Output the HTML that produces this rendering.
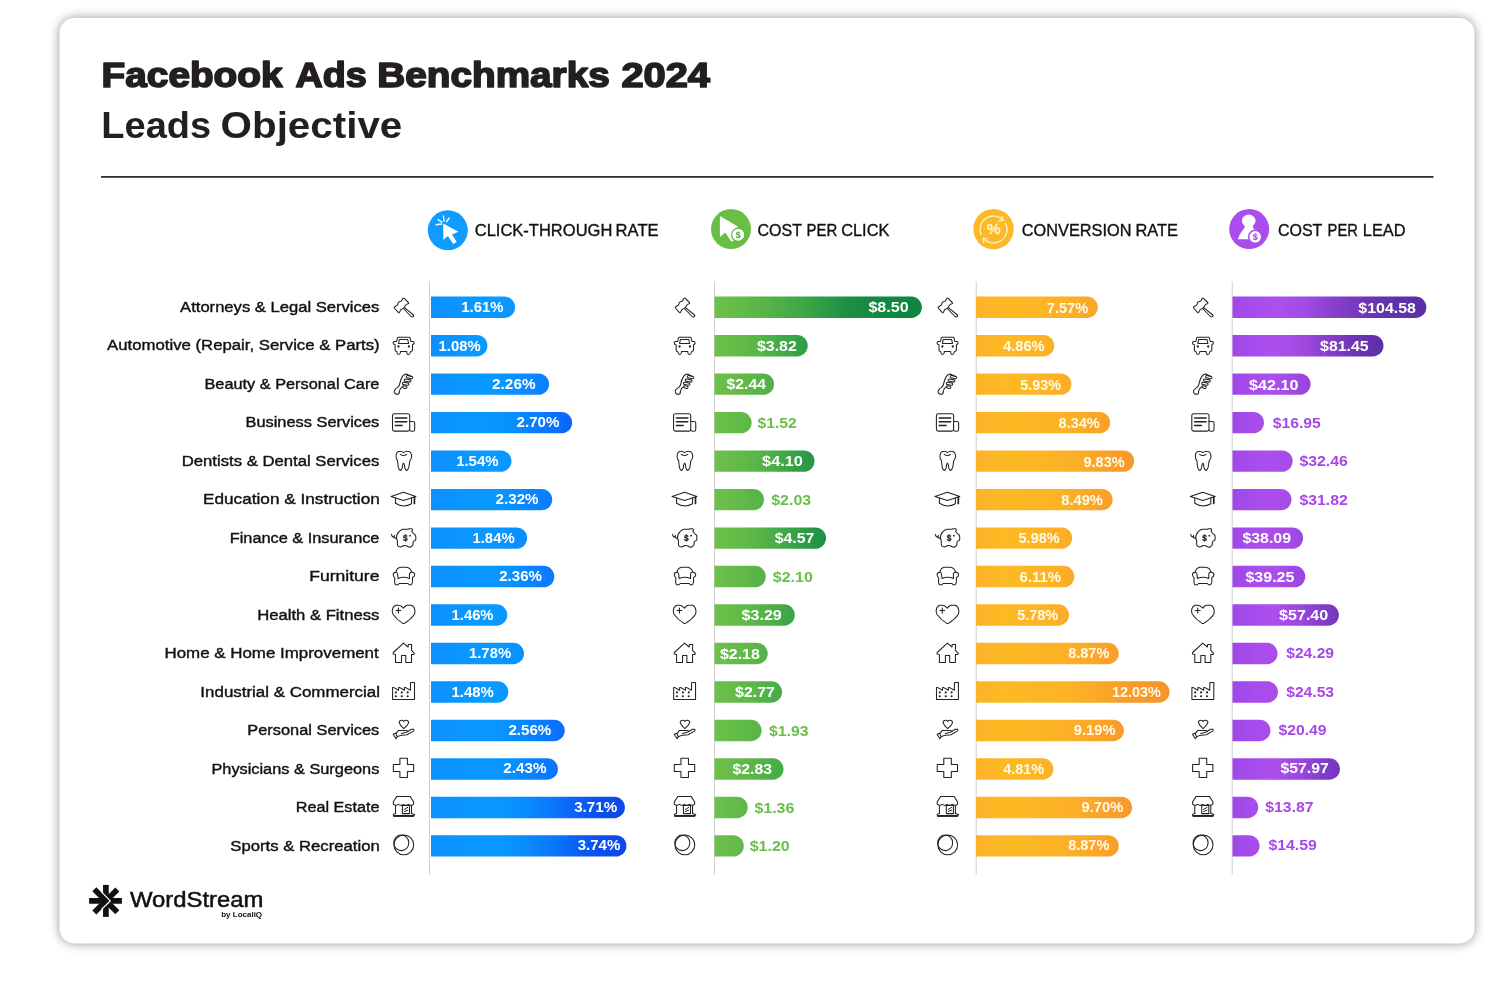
<!DOCTYPE html>
<html lang="en"><head><meta charset="utf-8"><title>Facebook Ads Benchmarks 2024 - Leads Objective</title>
<style>
html,body{margin:0;padding:0;background:#fff;}
body{width:1500px;height:985px;overflow:hidden;}
svg{display:block;}
svg text{font-family:"Liberation Sans",sans-serif;white-space:pre;}
.ic{fill:none;stroke:#222;stroke-width:1.05;stroke-linecap:round;stroke-linejoin:round;}
.ic .f{fill:#222;stroke:none;}
.ic text{fill:#222;stroke:none;font-weight:bold;}
</style></head><body>
<svg width="1500" height="985" viewBox="0 0 1500 985">
<defs>
<filter id="sh" x="-5%" y="-5%" width="110%" height="110%"><feGaussianBlur stdDeviation="5.5"/></filter>

<g id="i-gavel"><path d="M-0.6,-8.6 Q0,-9.3 0.7,-8.6 L4.9,-4.5 Q5.5,-3.7 4.6,-3.3 Q2.6,-2.9 1.9,-1.4 L0.9,0.6 L-0.2,1.5 Q-2.2,2 -2.9,2.9 Q-3.4,4.2 -4,5.3 Q-4.6,6 -5.3,5.3 L-9.1,1 Q-9.7,0.3 -8.9,-0.2 Q-7.7,-1.1 -6.6,-1.5 Q-5.8,-1.9 -5.7,-2.9 Q-5.6,-4.4 -4.6,-5.1 Q-3.3,-5.5 -2.5,-5.7 Q-1.8,-6 -1.5,-7 Q-1.2,-8 -0.6,-8.6 Z"/><path d="M0.9,0.6 L10,8 Q10.6,8.7 9.9,9.3 L9,9.9 Q8.2,10.2 7.6,9.5 L-0.2,1.5"/></g>
<g id="i-car"><path d="M-5.4,-8.3 L5.8,-8.3 Q6.6,-8.2 6.8,-7 L7.2,-4.6 Q7.3,-4 8,-4 L9.4,-4 Q10.6,-3.8 10.6,-2.6 Q10.5,-1.2 9.2,-0.9 L9,-0.8 L9,4.6 Q8.8,5.9 7.3,6.1 Q6.9,6.2 6.8,7 Q6.5,9 4.9,9.1 Q3.4,9 3.3,7 L3.2,5.9 L-3,5.9 L-3.1,7 Q-3.3,9 -4.8,9.1 Q-6.3,9 -6.5,7 Q-6.6,6.2 -7,6.1 Q-8.3,5.9 -8.4,4.6 L-8.4,-0.8 L-9,-0.9 Q-10.3,-1.3 -10.3,-2.6 Q-10.2,-3.9 -9,-4 L-7.4,-4 Q-6.8,-4.1 -6.7,-4.7 L-6.3,-7.2 Q-6.1,-8.2 -5.4,-8.3 Z"/><path d="M-4.1,-6.1 L4.2,-6.1 L5.1,-2 L-5,-2 Z"/><circle cx="-5" cy="1" r="1.15" fill="#222" stroke="none"/><circle cx="5.4" cy="1" r="1.15" fill="#222" stroke="none"/></g>
<g id="i-comb"><path d="M-4.3,8 Q-3.8,9.9 -5.6,10.3 Q-8.4,10.8 -9.3,8.3 Q-9.8,6 -7.5,4.6 Q-4.6,3 -4.1,1 Q-3,-4.4 -1,-7.6 Q0.4,-9.9 2.6,-9.9 Q3.8,-9.8 5,-9 L8.2,-7.6"/><path d="M-4.3,8 Q-3.6,4.8 -2.2,3.6 L-0.8,2.8"/><rect x="-3.30" y="-1.15" width="6.60" height="2.30" rx="1.15" transform="translate(6.0,-6.9) rotate(14)"/><rect x="-3.40" y="-1.15" width="6.80" height="2.30" rx="1.15" transform="translate(4.1,-3.4) rotate(10)"/><rect x="-3.20" y="-1.15" width="6.40" height="2.30" rx="1.15" transform="translate(2.1,-0.2) rotate(10)"/><rect x="-2.20" y="-1.15" width="4.40" height="2.30" rx="1.15" transform="translate(1.3,3.1) rotate(16)"/></g>
<g id="i-news"><rect x="-11" y="-8.8" width="17.2" height="17.4" rx="1.9"/><path d="M6.2,-1 L9.6,-1 Q11.2,-1 11.2,0.6 L11.2,7 Q11.2,8.8 9.4,8.8 L8,8.8 Q6.4,8.8 6.2,7.2"/><path d="M-8.2,-4.4 H3.3 M-8.2,-0.8 H3.3 M-8.2,3 H-1.3" stroke-width="1.5"/></g>
<g id="i-tooth"><path d="M0,-8.3 Q-1.8,-9.9 -3.4,-9.7 Q-6.8,-9.5 -7.3,-6.3 Q-7.6,-3.6 -7.1,-2.1 Q-6.2,-0.8 -5.9,-0.3 Q-5.6,3 -5.2,6.1 Q-4.6,9 -3,9.5 Q-1.8,9 -1.1,6.4 Q-0.9,2.5 0,2.2 Q1,2.5 1.2,6.4 Q1.8,9 3,9.5 Q4.6,9 5.3,6.4 Q6,3 6.2,0.1 Q7.4,-1.6 8,-3.1 Q8.3,-4.8 8,-6.3 Q7.2,-9.5 3.9,-9.7 Q2,-9.9 0,-8.3 Z"/><path d="M-3.2,-6.7 Q0,-4.3 3.2,-6.7"/></g>
<g id="i-cap"><path d="M0,-7.2 L12.4,-3.1 L0,1 L-12.5,-3.1 Z"/><path d="M-8,-1.5 L-8,3.8 Q0,8.8 8,4.3 L8,-1.5"/><path d="M11,-2.5 L10.9,4" stroke-width="1.7"/></g>
<g id="i-pig"><path d="M-7.1,0.4 Q-7.3,-3.5 -4.3,-6.7 Q-2.5,-8.3 -0.4,-8.7 L4.6,-8.7 Q5,-9.1 5.7,-9.2 L8,-9.2 Q9,-9 8.9,-8 L8.3,-6.5 Q9.8,-4.4 12.1,-2.8 Q12.5,-0.3 12.2,2.2 Q10.5,2.6 9.9,3.6 Q9.3,4.8 9.6,6.4 Q9.2,7.8 7.8,8.5 Q6.6,9.4 6,9.3 Q4.6,9 3.5,7.9 Q1.8,7.2 0,7.5 Q-1.2,8.6 -2.9,9.1 Q-5,8.8 -5.9,7.5 Q-6.4,5.4 -6.1,2.9 Q-6.3,1.5 -7.1,0.4 Z"/><path d="M-12.1,-3.7 Q-11.6,-1.2 -9.8,-0.7 Q-8.6,-0.2 -7.5,0.6 M-10.2,-1.2 Q-8.6,-1.4 -9.2,-2.6"/><text x="1.7" y="2.5" font-size="8.3" font-weight="bold" text-anchor="middle" fill="#222" stroke="#222" stroke-width="0.25">$</text><circle cx="6.5" cy="-2.3" r="0.9" fill="#222" stroke="none"/></g>
<g id="i-chair"><path d="M-7.5,-4.7 Q-6.5,-8.8 -2.8,-9.2 L2.8,-9.2 Q7,-8.8 8.1,-4.7"/><path d="M-7.8,-4.2 Q-10.4,-3.8 -10.3,-1.8 Q-10.2,-0.2 -8.7,1.3 L-8.9,5.2 Q-8.8,7 -8,8.3 L-5.5,8.3 L-4.3,7 L4.6,7 L5.8,8.3 L7.8,8.3 Q8.8,7 9,5.2 L9,1 Q11.2,0 11.2,-1.8 Q11,-3.8 8.1,-4.4 Q6.2,-4 6,-2.6 L6,1.9 Q0,-0.4 -5.4,2 L-5.9,-2.6 Q-6.2,-4 -7.8,-4.2 Z"/></g>
<g id="i-heart"><path d="M0,-6.9 Q-2.6,-9.7 -5,-9.7 L-7.5,-9.7 Q-10.8,-8.6 -11.2,-4.6 Q-11.4,-2.4 -10.5,-0.7 Q-7,4.5 -0.7,8.4 L0.9,8.4 Q7.5,4.5 11,-0.7 Q11.8,-2.6 11.3,-4.9 Q10.8,-8.6 8.1,-9.7 L3.5,-9.7 Q1.6,-9 0,-6.9 Z"/><path d="M-7.5,-4.5 H-2.7 M-5.1,-6.9 V-2.1" stroke-width="1.1"/></g>
<g id="i-house"><path d="M0,-10.4 L4.6,-6.5 L4.8,-9 L8.1,-9 L8,-3.1 L10.8,-0.1 Q10.8,1 9.9,1 L8,1.1 L8,9 L2.3,9 L2.3,1.9 L-2,1.9 L-2,9 L-8,9 L-8,1 L-10.2,0.6 Q-10.6,-0.3 -10.2,-1 Z"/></g>
<g id="i-factory"><path d="M-10.9,7.5 L-10.9,-4.4 L-10,-4.6 L-5,-1.7 L-4.8,-4.4 L-4.1,-4.6 L0.9,-1.7 L1,-4.4 L1.8,-4.6 L6.9,-1.7 L7.1,-9.5 L11,-9.5 L11,7.5 Z"/><circle cx="-7.6" cy="0.4" r="1.05" fill="#222" stroke="none"/><circle cx="-7.6" cy="4.3" r="1.05" fill="#222" stroke="none"/><circle cx="-1.7" cy="0.4" r="1.05" fill="#222" stroke="none"/><circle cx="-1.7" cy="4.3" r="1.05" fill="#222" stroke="none"/><circle cx="4.2" cy="0.4" r="1.05" fill="#222" stroke="none"/><circle cx="4.2" cy="4.3" r="1.05" fill="#222" stroke="none"/></g>
<g id="i-hand"><path d="M0.3,-9 Q-0.8,-10.4 -2,-10.2 Q-4.4,-10 -4.3,-7.6 Q-3.5,-5 0.3,-1.9 Q4.2,-5 5.1,-7.6 Q5.2,-10 2.6,-10.2 Q1.3,-10.3 0.3,-9 Z"/><path d="M-10.3,3.8 L-7.8,2.7 L-6.2,6.3 L-7.5,8.3 Z"/><path d="M-7.5,2.8 L-5,-0.1 L2.8,0.1 Q4,0.3 4.2,1 L7.8,-1.2 L10.3,-1.2 Q10.6,-0.2 9.9,0.6 L3.5,4.2 L-3.6,5.1 L-6.1,6.3"/><path d="M-2.2,2.9 L2.8,1.7 L4.2,1"/></g>
<g id="i-cross"><path d="M-3.6,-10.8 L3.9,-10.8 L3.9,-4.6 L10.1,-4.6 L10.1,2.4 L3.9,2.4 L3.9,8.4 L-3.6,8.4 L-3.6,2.4 L-10.2,2.4 L-10.2,-4.6 L-3.6,-4.6 Z"/></g>
<g id="i-shop"><path d="M-6.6,-11.1 L6.5,-11.1 L10.1,-5.8 L10.1,-3.3 Q8,-1.2 4.9,-3.1 Q2.6,-1.2 0,-3.1 Q-2.3,-1.2 -5,-3.1 Q-8.2,-1.2 -10.2,-3.3 L-10.2,-5.8 Z"/><path d="M-8,-2 V5.9 M8,-2 V5.9"/><rect x="-1.1" y="-2" width="7.1" height="8.1"/><path d="M0.7,2 L4.2,-0.1 M0.9,4 L4.2,2.7" stroke-width="1"/><path d="M-8,5.9 L-10.3,7 L-9.6,8.6 L10,8.6 L11.2,7 L8,5.9"/><path d="M-9.6,8.3 H10" stroke-width="1.7"/></g>
<g id="i-ball"><circle cx="0.3" cy="-1.2" r="9.9"/><ellipse cx="-2.2" cy="-3.2" rx="7.5" ry="7.8"/></g>
</defs>
<rect x="59.5" y="18" width="1415" height="925.5" rx="15" fill="#000" opacity="0.42" filter="url(#sh)"/>
<rect x="59.5" y="18" width="1415" height="925.5" rx="15" fill="#fff"/>
<rect x="101" y="176.1" width="1332.5" height="1.6" fill="#1a1a1a"/>

<circle cx="447.8" cy="230.3" r="20" fill="#0f9bff"/>
<path d="M443.2,223.5 L443.4,239.9 L447.8,236 L453.3,243.9 L456.6,241.7 L452,234.4 L458.4,231.7 Z" fill="#fff"/>
<path d="M443.4,216.1 L444.1,221 M438,219.5 L441.7,222.2 M436.2,224.7 L441.4,224.1 M449,218.3 L446.6,221.6" stroke="#fff" stroke-width="1.5" stroke-linecap="round" fill="none"/>
<circle cx="731" cy="229.1" r="20" fill="#69be46"/>
<path d="M719.9,215.9 L719.9,237.05 L725.2,232.4 L731.3,241.7 L735,240 L737.8,226.5 Z" fill="#fff"/>
<circle cx="738.2" cy="234.8" r="7.2" fill="#62b742"/>
<circle cx="738.2" cy="234.8" r="6" fill="#fff"/>
<text x="738.2" y="238.3" font-size="9.6" font-weight="bold" text-anchor="middle" fill="#4fa43a">$</text>
<circle cx="993.5" cy="229.1" r="20.2" fill="#fdb827"/>
<g fill="none" stroke="#fff2b8" stroke-width="1.35" stroke-linecap="round" stroke-linejoin="round">
<path d="M980.98,234.56 A13.5,13.5 0 0 1 1003.21,220.12"/>
<path d="M1005.42,223.16 A13.5,13.5 0 0 1 983.47,238.53"/>
<path d="M1001.9,216.3 L1003.5,220.3 L999.0,221.2"/>
<path d="M983.7,242.6 L983.3,238.2 L987.8,238.8"/>
</g>
<text x="993.7" y="234.4" font-size="15.5" font-weight="bold" text-anchor="middle" fill="#fff2b8" stroke="#fff2b8" stroke-width="0.3">%</text>
<circle cx="1249.2" cy="229.1" r="20" fill="#aa4cee"/>
<ellipse cx="1248.7" cy="220.9" rx="6.8" ry="6.3" fill="#fff"/>
<path d="M1244.9,225 L1244.8,226.8 C1244,229.8 1240,232.5 1237.9,239.3 L1252,239.3 L1259,231.5 C1256,230.6 1253.4,229.4 1252.8,226.8 L1252.7,225 Z" fill="#fff"/>
<circle cx="1255.2" cy="236.8" r="7.3" fill="#aa4cee"/>
<circle cx="1255.2" cy="236.8" r="5.8" fill="#fff"/>
<text x="1255.2" y="240.1" font-size="9.2" font-weight="bold" text-anchor="middle" fill="#9340d8">$</text>

<rect x="429.0" y="281.5" width="1" height="593.2" fill="#cfcfcf"/>
<rect x="714.0" y="281.5" width="1" height="593.2" fill="#cfcfcf"/>
<rect x="975.7" y="281.5" width="1" height="593.2" fill="#cfcfcf"/>
<rect x="1231.7" y="281.5" width="1" height="593.2" fill="#cfcfcf"/>
<defs><linearGradient id="b0" gradientUnits="userSpaceOnUse" x1="431.0" y1="0" x2="515.1" y2="0"><stop offset="0.000" stop-color="#0d90ff"/><stop offset="0.125" stop-color="#0c92ff"/><stop offset="0.250" stop-color="#0b94ff"/><stop offset="0.375" stop-color="#0a96ff"/><stop offset="0.500" stop-color="#0998ff"/><stop offset="0.625" stop-color="#0999ff"/><stop offset="0.750" stop-color="#0999ff"/><stop offset="0.875" stop-color="#0998ff"/><stop offset="1.000" stop-color="#0a96ff"/></linearGradient>
<linearGradient id="b1" gradientUnits="userSpaceOnUse" x1="431.0" y1="0" x2="487.4" y2="0"><stop offset="0.000" stop-color="#0d90ff"/><stop offset="0.125" stop-color="#0c91ff"/><stop offset="0.250" stop-color="#0c93ff"/><stop offset="0.375" stop-color="#0b94ff"/><stop offset="0.500" stop-color="#0a96ff"/><stop offset="0.625" stop-color="#0a97ff"/><stop offset="0.750" stop-color="#0a99ff"/><stop offset="0.875" stop-color="#0a9aff"/><stop offset="1.000" stop-color="#0a9aff"/></linearGradient>
<linearGradient id="b2" gradientUnits="userSpaceOnUse" x1="431.0" y1="0" x2="549.1" y2="0"><stop offset="0.000" stop-color="#0d90ff"/><stop offset="0.125" stop-color="#0c93ff"/><stop offset="0.250" stop-color="#0a95ff"/><stop offset="0.375" stop-color="#0997ff"/><stop offset="0.500" stop-color="#0898ff"/><stop offset="0.625" stop-color="#0895ff"/><stop offset="0.750" stop-color="#098dff"/><stop offset="0.875" stop-color="#0a86ff"/><stop offset="1.000" stop-color="#0a80ff"/></linearGradient>
<linearGradient id="b3" gradientUnits="userSpaceOnUse" x1="431.0" y1="0" x2="572.1" y2="0"><stop offset="0.000" stop-color="#0d90ff"/><stop offset="0.125" stop-color="#0b93ff"/><stop offset="0.250" stop-color="#0a96ff"/><stop offset="0.375" stop-color="#0897ff"/><stop offset="0.500" stop-color="#0795fe"/><stop offset="0.625" stop-color="#098afd"/><stop offset="0.750" stop-color="#0a7efc"/><stop offset="0.875" stop-color="#0a70fa"/><stop offset="1.000" stop-color="#0a64f8"/></linearGradient>
<linearGradient id="b4" gradientUnits="userSpaceOnUse" x1="431.0" y1="0" x2="511.5" y2="0"><stop offset="0.000" stop-color="#0d90ff"/><stop offset="0.125" stop-color="#0c92ff"/><stop offset="0.250" stop-color="#0b94ff"/><stop offset="0.375" stop-color="#0a96ff"/><stop offset="0.500" stop-color="#0a97ff"/><stop offset="0.625" stop-color="#0999ff"/><stop offset="0.750" stop-color="#0999ff"/><stop offset="0.875" stop-color="#0998ff"/><stop offset="1.000" stop-color="#0a97ff"/></linearGradient>
<linearGradient id="b5" gradientUnits="userSpaceOnUse" x1="431.0" y1="0" x2="552.2" y2="0"><stop offset="0.000" stop-color="#0d90ff"/><stop offset="0.125" stop-color="#0c93ff"/><stop offset="0.250" stop-color="#0a95ff"/><stop offset="0.375" stop-color="#0997ff"/><stop offset="0.500" stop-color="#0898ff"/><stop offset="0.625" stop-color="#0893ff"/><stop offset="0.750" stop-color="#098bff"/><stop offset="0.875" stop-color="#0a83fe"/><stop offset="1.000" stop-color="#0a7cfe"/></linearGradient>
<linearGradient id="b6" gradientUnits="userSpaceOnUse" x1="431.0" y1="0" x2="527.1" y2="0"><stop offset="0.000" stop-color="#0d90ff"/><stop offset="0.125" stop-color="#0c92ff"/><stop offset="0.250" stop-color="#0b94ff"/><stop offset="0.375" stop-color="#0a96ff"/><stop offset="0.500" stop-color="#0998ff"/><stop offset="0.625" stop-color="#0898ff"/><stop offset="0.750" stop-color="#0896ff"/><stop offset="0.875" stop-color="#0991ff"/><stop offset="1.000" stop-color="#0a8eff"/></linearGradient>
<linearGradient id="b7" gradientUnits="userSpaceOnUse" x1="431.0" y1="0" x2="554.3" y2="0"><stop offset="0.000" stop-color="#0d90ff"/><stop offset="0.125" stop-color="#0c93ff"/><stop offset="0.250" stop-color="#0a95ff"/><stop offset="0.375" stop-color="#0997ff"/><stop offset="0.500" stop-color="#0897ff"/><stop offset="0.625" stop-color="#0892ff"/><stop offset="0.750" stop-color="#0989fe"/><stop offset="0.875" stop-color="#0a81fe"/><stop offset="1.000" stop-color="#0a7afd"/></linearGradient>
<linearGradient id="b8" gradientUnits="userSpaceOnUse" x1="431.0" y1="0" x2="507.3" y2="0"><stop offset="0.000" stop-color="#0d90ff"/><stop offset="0.125" stop-color="#0c92ff"/><stop offset="0.250" stop-color="#0b94ff"/><stop offset="0.375" stop-color="#0a95ff"/><stop offset="0.500" stop-color="#0a97ff"/><stop offset="0.625" stop-color="#0999ff"/><stop offset="0.750" stop-color="#0999ff"/><stop offset="0.875" stop-color="#0999ff"/><stop offset="1.000" stop-color="#0a97ff"/></linearGradient>
<linearGradient id="b9" gradientUnits="userSpaceOnUse" x1="431.0" y1="0" x2="524.0" y2="0"><stop offset="0.000" stop-color="#0d90ff"/><stop offset="0.125" stop-color="#0c92ff"/><stop offset="0.250" stop-color="#0b94ff"/><stop offset="0.375" stop-color="#0a96ff"/><stop offset="0.500" stop-color="#0998ff"/><stop offset="0.625" stop-color="#0898ff"/><stop offset="0.750" stop-color="#0897ff"/><stop offset="0.875" stop-color="#0993ff"/><stop offset="1.000" stop-color="#0a90ff"/></linearGradient>
<linearGradient id="b10" gradientUnits="userSpaceOnUse" x1="431.0" y1="0" x2="508.3" y2="0"><stop offset="0.000" stop-color="#0d90ff"/><stop offset="0.125" stop-color="#0c92ff"/><stop offset="0.250" stop-color="#0b94ff"/><stop offset="0.375" stop-color="#0a96ff"/><stop offset="0.500" stop-color="#0a97ff"/><stop offset="0.625" stop-color="#0999ff"/><stop offset="0.750" stop-color="#0999ff"/><stop offset="0.875" stop-color="#0999ff"/><stop offset="1.000" stop-color="#0a97ff"/></linearGradient>
<linearGradient id="b11" gradientUnits="userSpaceOnUse" x1="431.0" y1="0" x2="564.8" y2="0"><stop offset="0.000" stop-color="#0d90ff"/><stop offset="0.125" stop-color="#0c93ff"/><stop offset="0.250" stop-color="#0a96ff"/><stop offset="0.375" stop-color="#0997ff"/><stop offset="0.500" stop-color="#0897fe"/><stop offset="0.625" stop-color="#088dfe"/><stop offset="0.750" stop-color="#0982fd"/><stop offset="0.875" stop-color="#0a77fc"/><stop offset="1.000" stop-color="#0a6dfa"/></linearGradient>
<linearGradient id="b12" gradientUnits="userSpaceOnUse" x1="431.0" y1="0" x2="558.0" y2="0"><stop offset="0.000" stop-color="#0d90ff"/><stop offset="0.125" stop-color="#0c93ff"/><stop offset="0.250" stop-color="#0a95ff"/><stop offset="0.375" stop-color="#0997ff"/><stop offset="0.500" stop-color="#0897ff"/><stop offset="0.625" stop-color="#0891fe"/><stop offset="0.750" stop-color="#0987fe"/><stop offset="0.875" stop-color="#0a7dfd"/><stop offset="1.000" stop-color="#0a75fc"/></linearGradient>
<linearGradient id="b13" gradientUnits="userSpaceOnUse" x1="431.0" y1="0" x2="624.8" y2="0"><stop offset="0.000" stop-color="#0d90ff"/><stop offset="0.125" stop-color="#0b94ff"/><stop offset="0.250" stop-color="#0998ff"/><stop offset="0.375" stop-color="#0797fe"/><stop offset="0.500" stop-color="#098afc"/><stop offset="0.625" stop-color="#0a79fa"/><stop offset="0.750" stop-color="#0b61f5"/><stop offset="0.875" stop-color="#0c4eed"/><stop offset="1.000" stop-color="#0c47ea"/></linearGradient>
<linearGradient id="b14" gradientUnits="userSpaceOnUse" x1="431.0" y1="0" x2="626.4" y2="0"><stop offset="0.000" stop-color="#0d90ff"/><stop offset="0.125" stop-color="#0b94ff"/><stop offset="0.250" stop-color="#0998ff"/><stop offset="0.375" stop-color="#0897fe"/><stop offset="0.500" stop-color="#0989fc"/><stop offset="0.625" stop-color="#0a78fa"/><stop offset="0.750" stop-color="#0b60f5"/><stop offset="0.875" stop-color="#0c4ded"/><stop offset="1.000" stop-color="#0c46ea"/></linearGradient>
<linearGradient id="g0" gradientUnits="userSpaceOnUse" x1="714.5" y1="0" x2="921.9" y2="0"><stop offset="0.000" stop-color="#6ec04a"/><stop offset="0.125" stop-color="#63bb49"/><stop offset="0.250" stop-color="#57b448"/><stop offset="0.375" stop-color="#45ab47"/><stop offset="0.500" stop-color="#329f46"/><stop offset="0.625" stop-color="#1e9144"/><stop offset="0.750" stop-color="#138942"/><stop offset="0.875" stop-color="#0e8541"/><stop offset="1.000" stop-color="#0e8641"/></linearGradient>
<linearGradient id="g1" gradientUnits="userSpaceOnUse" x1="714.5" y1="0" x2="807.7" y2="0"><stop offset="0.000" stop-color="#6ec04a"/><stop offset="0.125" stop-color="#69be49"/><stop offset="0.250" stop-color="#64bb49"/><stop offset="0.375" stop-color="#5eb848"/><stop offset="0.500" stop-color="#56b448"/><stop offset="0.625" stop-color="#4bae48"/><stop offset="0.750" stop-color="#41a847"/><stop offset="0.875" stop-color="#37a347"/><stop offset="1.000" stop-color="#2f9e47"/></linearGradient>
<linearGradient id="g2" gradientUnits="userSpaceOnUse" x1="714.5" y1="0" x2="774.0" y2="0"><stop offset="0.000" stop-color="#6ec04a"/><stop offset="0.125" stop-color="#6bbe4a"/><stop offset="0.250" stop-color="#68bd49"/><stop offset="0.375" stop-color="#64bb49"/><stop offset="0.500" stop-color="#60b949"/><stop offset="0.625" stop-color="#5bb748"/><stop offset="0.750" stop-color="#57b548"/><stop offset="0.875" stop-color="#52b248"/><stop offset="1.000" stop-color="#4fb148"/></linearGradient>
<linearGradient id="g3" gradientUnits="userSpaceOnUse" x1="714.5" y1="0" x2="751.6" y2="0"><stop offset="0.000" stop-color="#6ec04a"/><stop offset="0.125" stop-color="#6cbf4a"/><stop offset="0.250" stop-color="#6abe4a"/><stop offset="0.375" stop-color="#68bd49"/><stop offset="0.500" stop-color="#65bc49"/><stop offset="0.625" stop-color="#62ba49"/><stop offset="0.750" stop-color="#60b948"/><stop offset="0.875" stop-color="#5db748"/><stop offset="1.000" stop-color="#5bb648"/></linearGradient>
<linearGradient id="g4" gradientUnits="userSpaceOnUse" x1="714.5" y1="0" x2="814.5" y2="0"><stop offset="0.000" stop-color="#6ec04a"/><stop offset="0.125" stop-color="#69bd49"/><stop offset="0.250" stop-color="#63ba49"/><stop offset="0.375" stop-color="#5cb748"/><stop offset="0.500" stop-color="#53b248"/><stop offset="0.625" stop-color="#47ab47"/><stop offset="0.750" stop-color="#3aa447"/><stop offset="0.875" stop-color="#2e9d46"/><stop offset="1.000" stop-color="#249746"/></linearGradient>
<linearGradient id="g5" gradientUnits="userSpaceOnUse" x1="714.5" y1="0" x2="764.0" y2="0"><stop offset="0.000" stop-color="#6ec04a"/><stop offset="0.125" stop-color="#6bbf4a"/><stop offset="0.250" stop-color="#69bd49"/><stop offset="0.375" stop-color="#66bc49"/><stop offset="0.500" stop-color="#62ba49"/><stop offset="0.625" stop-color="#5fb848"/><stop offset="0.750" stop-color="#5bb648"/><stop offset="0.875" stop-color="#58b548"/><stop offset="1.000" stop-color="#55b348"/></linearGradient>
<linearGradient id="g6" gradientUnits="userSpaceOnUse" x1="714.5" y1="0" x2="826.0" y2="0"><stop offset="0.000" stop-color="#6ec04a"/><stop offset="0.125" stop-color="#68bd49"/><stop offset="0.250" stop-color="#62ba49"/><stop offset="0.375" stop-color="#5ab648"/><stop offset="0.500" stop-color="#4eaf47"/><stop offset="0.625" stop-color="#41a847"/><stop offset="0.750" stop-color="#33a046"/><stop offset="0.875" stop-color="#259746"/><stop offset="1.000" stop-color="#1a9045"/></linearGradient>
<linearGradient id="g7" gradientUnits="userSpaceOnUse" x1="714.5" y1="0" x2="765.7" y2="0"><stop offset="0.000" stop-color="#6ec04a"/><stop offset="0.125" stop-color="#6bbf4a"/><stop offset="0.250" stop-color="#68bd49"/><stop offset="0.375" stop-color="#65bc49"/><stop offset="0.500" stop-color="#62ba49"/><stop offset="0.625" stop-color="#5eb848"/><stop offset="0.750" stop-color="#5ab648"/><stop offset="0.875" stop-color="#57b448"/><stop offset="1.000" stop-color="#55b348"/></linearGradient>
<linearGradient id="g8" gradientUnits="userSpaceOnUse" x1="714.5" y1="0" x2="794.8" y2="0"><stop offset="0.000" stop-color="#6ec04a"/><stop offset="0.125" stop-color="#6abe4a"/><stop offset="0.250" stop-color="#65bc49"/><stop offset="0.375" stop-color="#60b949"/><stop offset="0.500" stop-color="#5ab648"/><stop offset="0.625" stop-color="#52b248"/><stop offset="0.750" stop-color="#49ad47"/><stop offset="0.875" stop-color="#40a847"/><stop offset="1.000" stop-color="#3aa547"/></linearGradient>
<linearGradient id="g9" gradientUnits="userSpaceOnUse" x1="714.5" y1="0" x2="767.7" y2="0"><stop offset="0.000" stop-color="#6ec04a"/><stop offset="0.125" stop-color="#6bbf4a"/><stop offset="0.250" stop-color="#68bd49"/><stop offset="0.375" stop-color="#65bb49"/><stop offset="0.500" stop-color="#61ba49"/><stop offset="0.625" stop-color="#5db848"/><stop offset="0.750" stop-color="#5ab648"/><stop offset="0.875" stop-color="#56b448"/><stop offset="1.000" stop-color="#53b248"/></linearGradient>
<linearGradient id="g10" gradientUnits="userSpaceOnUse" x1="714.5" y1="0" x2="782.1" y2="0"><stop offset="0.000" stop-color="#6ec04a"/><stop offset="0.125" stop-color="#6abe4a"/><stop offset="0.250" stop-color="#67bc49"/><stop offset="0.375" stop-color="#62ba49"/><stop offset="0.500" stop-color="#5db848"/><stop offset="0.625" stop-color="#58b548"/><stop offset="0.750" stop-color="#51b248"/><stop offset="0.875" stop-color="#4bae48"/><stop offset="1.000" stop-color="#47ac48"/></linearGradient>
<linearGradient id="g11" gradientUnits="userSpaceOnUse" x1="714.5" y1="0" x2="761.6" y2="0"><stop offset="0.000" stop-color="#6ec04a"/><stop offset="0.125" stop-color="#6bbf4a"/><stop offset="0.250" stop-color="#69bd49"/><stop offset="0.375" stop-color="#66bc49"/><stop offset="0.500" stop-color="#63ba49"/><stop offset="0.625" stop-color="#5fb949"/><stop offset="0.750" stop-color="#5cb748"/><stop offset="0.875" stop-color="#59b548"/><stop offset="1.000" stop-color="#57b448"/></linearGradient>
<linearGradient id="g12" gradientUnits="userSpaceOnUse" x1="714.5" y1="0" x2="783.6" y2="0"><stop offset="0.000" stop-color="#6ec04a"/><stop offset="0.125" stop-color="#6abe4a"/><stop offset="0.250" stop-color="#67bc49"/><stop offset="0.375" stop-color="#62ba49"/><stop offset="0.500" stop-color="#5db748"/><stop offset="0.625" stop-color="#57b548"/><stop offset="0.750" stop-color="#50b148"/><stop offset="0.875" stop-color="#4aae48"/><stop offset="1.000" stop-color="#45ac48"/></linearGradient>
<linearGradient id="g13" gradientUnits="userSpaceOnUse" x1="714.5" y1="0" x2="747.7" y2="0"><stop offset="0.000" stop-color="#6ec04a"/><stop offset="0.125" stop-color="#6cbf4a"/><stop offset="0.250" stop-color="#6abe4a"/><stop offset="0.375" stop-color="#68bd49"/><stop offset="0.500" stop-color="#66bc49"/><stop offset="0.625" stop-color="#64bb49"/><stop offset="0.750" stop-color="#61b949"/><stop offset="0.875" stop-color="#5fb848"/><stop offset="1.000" stop-color="#5db748"/></linearGradient>
<linearGradient id="g14" gradientUnits="userSpaceOnUse" x1="714.5" y1="0" x2="743.8" y2="0"><stop offset="0.000" stop-color="#6ec04a"/><stop offset="0.125" stop-color="#6cbf4a"/><stop offset="0.250" stop-color="#6bbe4a"/><stop offset="0.375" stop-color="#69bd49"/><stop offset="0.500" stop-color="#67bc49"/><stop offset="0.625" stop-color="#65bb49"/><stop offset="0.750" stop-color="#63ba49"/><stop offset="0.875" stop-color="#61b948"/><stop offset="1.000" stop-color="#5fb848"/></linearGradient>
<linearGradient id="y0" gradientUnits="userSpaceOnUse" x1="976.0" y1="0" x2="1097.8" y2="0"><stop offset="0.000" stop-color="#fcb22a"/><stop offset="0.125" stop-color="#fdb726"/><stop offset="0.250" stop-color="#fdb924"/><stop offset="0.375" stop-color="#fdb825"/><stop offset="0.500" stop-color="#fdb625"/><stop offset="0.625" stop-color="#fcb326"/><stop offset="0.750" stop-color="#fcaf27"/><stop offset="0.875" stop-color="#fbaa28"/><stop offset="1.000" stop-color="#faa429"/></linearGradient>
<linearGradient id="y1" gradientUnits="userSpaceOnUse" x1="976.0" y1="0" x2="1054.2" y2="0"><stop offset="0.000" stop-color="#fcb22a"/><stop offset="0.125" stop-color="#fcb528"/><stop offset="0.250" stop-color="#fdb825"/><stop offset="0.375" stop-color="#fdb924"/><stop offset="0.500" stop-color="#fdb825"/><stop offset="0.625" stop-color="#fdb625"/><stop offset="0.750" stop-color="#fdb426"/><stop offset="0.875" stop-color="#fcb226"/><stop offset="1.000" stop-color="#fcaf27"/></linearGradient>
<linearGradient id="y2" gradientUnits="userSpaceOnUse" x1="976.0" y1="0" x2="1071.4" y2="0"><stop offset="0.000" stop-color="#fcb22a"/><stop offset="0.125" stop-color="#fcb627"/><stop offset="0.250" stop-color="#fdba24"/><stop offset="0.375" stop-color="#fdb924"/><stop offset="0.500" stop-color="#fdb725"/><stop offset="0.625" stop-color="#fdb526"/><stop offset="0.750" stop-color="#fcb226"/><stop offset="0.875" stop-color="#fcaf27"/><stop offset="1.000" stop-color="#fbab28"/></linearGradient>
<linearGradient id="y3" gradientUnits="userSpaceOnUse" x1="976.0" y1="0" x2="1110.2" y2="0"><stop offset="0.000" stop-color="#fcb22a"/><stop offset="0.125" stop-color="#fdb826"/><stop offset="0.250" stop-color="#fdb924"/><stop offset="0.375" stop-color="#fdb725"/><stop offset="0.500" stop-color="#fdb526"/><stop offset="0.625" stop-color="#fcb127"/><stop offset="0.750" stop-color="#fbad28"/><stop offset="0.875" stop-color="#faa529"/><stop offset="1.000" stop-color="#f9a02a"/></linearGradient>
<linearGradient id="y4" gradientUnits="userSpaceOnUse" x1="976.0" y1="0" x2="1134.2" y2="0"><stop offset="0.000" stop-color="#fcb22a"/><stop offset="0.125" stop-color="#fdb925"/><stop offset="0.250" stop-color="#fdb924"/><stop offset="0.375" stop-color="#fdb725"/><stop offset="0.500" stop-color="#fcb326"/><stop offset="0.625" stop-color="#fcaf27"/><stop offset="0.750" stop-color="#faa629"/><stop offset="0.875" stop-color="#f99d2a"/><stop offset="1.000" stop-color="#f8982b"/></linearGradient>
<linearGradient id="y5" gradientUnits="userSpaceOnUse" x1="976.0" y1="0" x2="1112.6" y2="0"><stop offset="0.000" stop-color="#fcb22a"/><stop offset="0.125" stop-color="#fdb826"/><stop offset="0.250" stop-color="#fdb924"/><stop offset="0.375" stop-color="#fdb725"/><stop offset="0.500" stop-color="#fdb526"/><stop offset="0.625" stop-color="#fcb127"/><stop offset="0.750" stop-color="#fbac28"/><stop offset="0.875" stop-color="#faa529"/><stop offset="1.000" stop-color="#f99f2a"/></linearGradient>
<linearGradient id="y6" gradientUnits="userSpaceOnUse" x1="976.0" y1="0" x2="1072.2" y2="0"><stop offset="0.000" stop-color="#fcb22a"/><stop offset="0.125" stop-color="#fcb627"/><stop offset="0.250" stop-color="#fdba24"/><stop offset="0.375" stop-color="#fdb924"/><stop offset="0.500" stop-color="#fdb725"/><stop offset="0.625" stop-color="#fdb526"/><stop offset="0.750" stop-color="#fcb226"/><stop offset="0.875" stop-color="#fcaf27"/><stop offset="1.000" stop-color="#fbab28"/></linearGradient>
<linearGradient id="y7" gradientUnits="userSpaceOnUse" x1="976.0" y1="0" x2="1074.3" y2="0"><stop offset="0.000" stop-color="#fcb22a"/><stop offset="0.125" stop-color="#fdb627"/><stop offset="0.250" stop-color="#fdba24"/><stop offset="0.375" stop-color="#fdb925"/><stop offset="0.500" stop-color="#fdb725"/><stop offset="0.625" stop-color="#fcb526"/><stop offset="0.750" stop-color="#fcb226"/><stop offset="0.875" stop-color="#fcaf27"/><stop offset="1.000" stop-color="#fbaa28"/></linearGradient>
<linearGradient id="y8" gradientUnits="userSpaceOnUse" x1="976.0" y1="0" x2="1069.0" y2="0"><stop offset="0.000" stop-color="#fcb22a"/><stop offset="0.125" stop-color="#fcb627"/><stop offset="0.250" stop-color="#fdba24"/><stop offset="0.375" stop-color="#fdb924"/><stop offset="0.500" stop-color="#fdb725"/><stop offset="0.625" stop-color="#fdb526"/><stop offset="0.750" stop-color="#fcb326"/><stop offset="0.875" stop-color="#fcaf27"/><stop offset="1.000" stop-color="#fbac28"/></linearGradient>
<linearGradient id="y9" gradientUnits="userSpaceOnUse" x1="976.0" y1="0" x2="1118.7" y2="0"><stop offset="0.000" stop-color="#fcb22a"/><stop offset="0.125" stop-color="#fdb826"/><stop offset="0.250" stop-color="#fdb924"/><stop offset="0.375" stop-color="#fdb725"/><stop offset="0.500" stop-color="#fcb426"/><stop offset="0.625" stop-color="#fcb027"/><stop offset="0.750" stop-color="#fbab28"/><stop offset="0.875" stop-color="#faa329"/><stop offset="1.000" stop-color="#f99d2a"/></linearGradient>
<linearGradient id="y10" gradientUnits="userSpaceOnUse" x1="976.0" y1="0" x2="1169.6" y2="0"><stop offset="0.000" stop-color="#fcb22a"/><stop offset="0.125" stop-color="#fdba24"/><stop offset="0.250" stop-color="#fdb825"/><stop offset="0.375" stop-color="#fdb626"/><stop offset="0.500" stop-color="#fcb226"/><stop offset="0.625" stop-color="#fba828"/><stop offset="0.750" stop-color="#f99e29"/><stop offset="0.875" stop-color="#f8962b"/><stop offset="1.000" stop-color="#f7932b"/></linearGradient>
<linearGradient id="y11" gradientUnits="userSpaceOnUse" x1="976.0" y1="0" x2="1123.9" y2="0"><stop offset="0.000" stop-color="#fcb22a"/><stop offset="0.125" stop-color="#fdb825"/><stop offset="0.250" stop-color="#fdb924"/><stop offset="0.375" stop-color="#fdb725"/><stop offset="0.500" stop-color="#fcb426"/><stop offset="0.625" stop-color="#fcb027"/><stop offset="0.750" stop-color="#fba928"/><stop offset="0.875" stop-color="#faa129"/><stop offset="1.000" stop-color="#f99b2a"/></linearGradient>
<linearGradient id="y12" gradientUnits="userSpaceOnUse" x1="976.0" y1="0" x2="1053.4" y2="0"><stop offset="0.000" stop-color="#fcb22a"/><stop offset="0.125" stop-color="#fcb528"/><stop offset="0.250" stop-color="#fdb825"/><stop offset="0.375" stop-color="#fdb924"/><stop offset="0.500" stop-color="#fdb825"/><stop offset="0.625" stop-color="#fdb625"/><stop offset="0.750" stop-color="#fdb426"/><stop offset="0.875" stop-color="#fcb226"/><stop offset="1.000" stop-color="#fcaf27"/></linearGradient>
<linearGradient id="y13" gradientUnits="userSpaceOnUse" x1="976.0" y1="0" x2="1132.1" y2="0"><stop offset="0.000" stop-color="#fcb22a"/><stop offset="0.125" stop-color="#fdb825"/><stop offset="0.250" stop-color="#fdb924"/><stop offset="0.375" stop-color="#fdb725"/><stop offset="0.500" stop-color="#fcb326"/><stop offset="0.625" stop-color="#fcaf27"/><stop offset="0.750" stop-color="#fba728"/><stop offset="0.875" stop-color="#f99e2a"/><stop offset="1.000" stop-color="#f8992b"/></linearGradient>
<linearGradient id="y14" gradientUnits="userSpaceOnUse" x1="976.0" y1="0" x2="1118.7" y2="0"><stop offset="0.000" stop-color="#fcb22a"/><stop offset="0.125" stop-color="#fdb826"/><stop offset="0.250" stop-color="#fdb924"/><stop offset="0.375" stop-color="#fdb725"/><stop offset="0.500" stop-color="#fcb426"/><stop offset="0.625" stop-color="#fcb027"/><stop offset="0.750" stop-color="#fbab28"/><stop offset="0.875" stop-color="#faa329"/><stop offset="1.000" stop-color="#f99d2a"/></linearGradient>
<linearGradient id="p0" gradientUnits="userSpaceOnUse" x1="1232.5" y1="0" x2="1426.4" y2="0"><stop offset="0.000" stop-color="#9f47e8"/><stop offset="0.125" stop-color="#a84ded"/><stop offset="0.250" stop-color="#ac4fed"/><stop offset="0.375" stop-color="#a14ae3"/><stop offset="0.500" stop-color="#8c41d0"/><stop offset="0.625" stop-color="#7839bf"/><stop offset="0.750" stop-color="#6734b0"/><stop offset="0.875" stop-color="#5f30a9"/><stop offset="1.000" stop-color="#5c2fa6"/></linearGradient>
<linearGradient id="p1" gradientUnits="userSpaceOnUse" x1="1232.5" y1="0" x2="1383.5" y2="0"><stop offset="0.000" stop-color="#9f47e8"/><stop offset="0.125" stop-color="#a64bec"/><stop offset="0.250" stop-color="#ac4fef"/><stop offset="0.375" stop-color="#a84de9"/><stop offset="0.500" stop-color="#9a47dc"/><stop offset="0.625" stop-color="#873fcb"/><stop offset="0.750" stop-color="#7538bb"/><stop offset="0.875" stop-color="#6633ae"/><stop offset="1.000" stop-color="#5d30a5"/></linearGradient>
<linearGradient id="p2" gradientUnits="userSpaceOnUse" x1="1232.5" y1="0" x2="1310.6" y2="0"><stop offset="0.000" stop-color="#9f47e8"/><stop offset="0.125" stop-color="#a349ea"/><stop offset="0.250" stop-color="#a64bec"/><stop offset="0.375" stop-color="#a94ded"/><stop offset="0.500" stop-color="#ab4eed"/><stop offset="0.625" stop-color="#a84cea"/><stop offset="0.750" stop-color="#a34ae5"/><stop offset="0.875" stop-color="#9d47e0"/><stop offset="1.000" stop-color="#9744db"/></linearGradient>
<linearGradient id="p3" gradientUnits="userSpaceOnUse" x1="1232.5" y1="0" x2="1263.9" y2="0"><stop offset="0.000" stop-color="#9f47e8"/><stop offset="0.125" stop-color="#a148e9"/><stop offset="0.250" stop-color="#a249ea"/><stop offset="0.375" stop-color="#a44aeb"/><stop offset="0.500" stop-color="#a64beb"/><stop offset="0.625" stop-color="#a74cec"/><stop offset="0.750" stop-color="#a84cec"/><stop offset="0.875" stop-color="#a94cec"/><stop offset="1.000" stop-color="#a84ceb"/></linearGradient>
<linearGradient id="p4" gradientUnits="userSpaceOnUse" x1="1232.5" y1="0" x2="1292.7" y2="0"><stop offset="0.000" stop-color="#9f47e8"/><stop offset="0.125" stop-color="#a249ea"/><stop offset="0.250" stop-color="#a54beb"/><stop offset="0.375" stop-color="#a84cec"/><stop offset="0.500" stop-color="#aa4eed"/><stop offset="0.625" stop-color="#ac4eee"/><stop offset="0.750" stop-color="#aa4dec"/><stop offset="0.875" stop-color="#a84bea"/><stop offset="1.000" stop-color="#a54ae7"/></linearGradient>
<linearGradient id="p5" gradientUnits="userSpaceOnUse" x1="1232.5" y1="0" x2="1291.5" y2="0"><stop offset="0.000" stop-color="#9f47e8"/><stop offset="0.125" stop-color="#a249ea"/><stop offset="0.250" stop-color="#a54beb"/><stop offset="0.375" stop-color="#a84cec"/><stop offset="0.500" stop-color="#aa4ded"/><stop offset="0.625" stop-color="#ac4eee"/><stop offset="0.750" stop-color="#aa4dec"/><stop offset="0.875" stop-color="#a84cea"/><stop offset="1.000" stop-color="#a64ae8"/></linearGradient>
<linearGradient id="p6" gradientUnits="userSpaceOnUse" x1="1232.5" y1="0" x2="1303.1" y2="0"><stop offset="0.000" stop-color="#9f47e8"/><stop offset="0.125" stop-color="#a349ea"/><stop offset="0.250" stop-color="#a64bec"/><stop offset="0.375" stop-color="#a94ded"/><stop offset="0.500" stop-color="#ab4eed"/><stop offset="0.625" stop-color="#a94deb"/><stop offset="0.750" stop-color="#a54be8"/><stop offset="0.875" stop-color="#a149e4"/><stop offset="1.000" stop-color="#9c46df"/></linearGradient>
<linearGradient id="p7" gradientUnits="userSpaceOnUse" x1="1232.5" y1="0" x2="1305.3" y2="0"><stop offset="0.000" stop-color="#9f47e8"/><stop offset="0.125" stop-color="#a349ea"/><stop offset="0.250" stop-color="#a64bec"/><stop offset="0.375" stop-color="#a94ded"/><stop offset="0.500" stop-color="#ab4eed"/><stop offset="0.625" stop-color="#a84deb"/><stop offset="0.750" stop-color="#a44be7"/><stop offset="0.875" stop-color="#9f48e3"/><stop offset="1.000" stop-color="#9a45de"/></linearGradient>
<linearGradient id="p8" gradientUnits="userSpaceOnUse" x1="1232.5" y1="0" x2="1338.9" y2="0"><stop offset="0.000" stop-color="#9f47e8"/><stop offset="0.125" stop-color="#a44aeb"/><stop offset="0.250" stop-color="#a94ded"/><stop offset="0.375" stop-color="#ab4fed"/><stop offset="0.500" stop-color="#a54ce7"/><stop offset="0.625" stop-color="#9c48df"/><stop offset="0.750" stop-color="#8e41d2"/><stop offset="0.875" stop-color="#803bc6"/><stop offset="1.000" stop-color="#7537bc"/></linearGradient>
<linearGradient id="p9" gradientUnits="userSpaceOnUse" x1="1232.5" y1="0" x2="1277.5" y2="0"><stop offset="0.000" stop-color="#9f47e8"/><stop offset="0.125" stop-color="#a148e9"/><stop offset="0.250" stop-color="#a44aea"/><stop offset="0.375" stop-color="#a64beb"/><stop offset="0.500" stop-color="#a84cec"/><stop offset="0.625" stop-color="#a94ded"/><stop offset="0.750" stop-color="#aa4ded"/><stop offset="0.875" stop-color="#a94dec"/><stop offset="1.000" stop-color="#a74bea"/></linearGradient>
<linearGradient id="p10" gradientUnits="userSpaceOnUse" x1="1232.5" y1="0" x2="1278.0" y2="0"><stop offset="0.000" stop-color="#9f47e8"/><stop offset="0.125" stop-color="#a148e9"/><stop offset="0.250" stop-color="#a44aea"/><stop offset="0.375" stop-color="#a64beb"/><stop offset="0.500" stop-color="#a84cec"/><stop offset="0.625" stop-color="#a94ded"/><stop offset="0.750" stop-color="#aa4ded"/><stop offset="0.875" stop-color="#a94cec"/><stop offset="1.000" stop-color="#a74bea"/></linearGradient>
<linearGradient id="p11" gradientUnits="userSpaceOnUse" x1="1232.5" y1="0" x2="1270.5" y2="0"><stop offset="0.000" stop-color="#9f47e8"/><stop offset="0.125" stop-color="#a148e9"/><stop offset="0.250" stop-color="#a349ea"/><stop offset="0.375" stop-color="#a54aeb"/><stop offset="0.500" stop-color="#a74bec"/><stop offset="0.625" stop-color="#a84cec"/><stop offset="0.750" stop-color="#a94ded"/><stop offset="0.875" stop-color="#a94cec"/><stop offset="1.000" stop-color="#a84beb"/></linearGradient>
<linearGradient id="p12" gradientUnits="userSpaceOnUse" x1="1232.5" y1="0" x2="1340.0" y2="0"><stop offset="0.000" stop-color="#9f47e8"/><stop offset="0.125" stop-color="#a44aeb"/><stop offset="0.250" stop-color="#a94ded"/><stop offset="0.375" stop-color="#ab4eed"/><stop offset="0.500" stop-color="#a54ce7"/><stop offset="0.625" stop-color="#9c47de"/><stop offset="0.750" stop-color="#8d41d1"/><stop offset="0.875" stop-color="#7f3bc5"/><stop offset="1.000" stop-color="#7436bb"/></linearGradient>
<linearGradient id="p13" gradientUnits="userSpaceOnUse" x1="1232.5" y1="0" x2="1258.2" y2="0"><stop offset="0.000" stop-color="#9f47e8"/><stop offset="0.125" stop-color="#a048e9"/><stop offset="0.250" stop-color="#a249e9"/><stop offset="0.375" stop-color="#a349ea"/><stop offset="0.500" stop-color="#a54aeb"/><stop offset="0.625" stop-color="#a64bec"/><stop offset="0.750" stop-color="#a84cec"/><stop offset="0.875" stop-color="#a94cec"/><stop offset="1.000" stop-color="#a94cec"/></linearGradient>
<linearGradient id="p14" gradientUnits="userSpaceOnUse" x1="1232.5" y1="0" x2="1259.5" y2="0"><stop offset="0.000" stop-color="#9f47e8"/><stop offset="0.125" stop-color="#a148e9"/><stop offset="0.250" stop-color="#a249ea"/><stop offset="0.375" stop-color="#a34aea"/><stop offset="0.500" stop-color="#a54aeb"/><stop offset="0.625" stop-color="#a64bec"/><stop offset="0.750" stop-color="#a84cec"/><stop offset="0.875" stop-color="#a94cec"/><stop offset="1.000" stop-color="#a94cec"/></linearGradient></defs>
<path d="M431.0,296.50 H504.42 a10.70,10.70 0 0 1 0,21.4 H431.0 Z" fill="url(#b0)"/>
<path d="M431.0,334.98 H476.73 a10.70,10.70 0 0 1 0,21.4 H431.0 Z" fill="url(#b1)"/>
<path d="M431.0,373.46 H538.38 a10.70,10.70 0 0 1 0,21.4 H431.0 Z" fill="url(#b2)"/>
<path d="M431.0,411.94 H561.38 a10.70,10.70 0 0 1 0,21.4 H431.0 Z" fill="url(#b3)"/>
<path d="M431.0,450.42 H500.77 a10.70,10.70 0 0 1 0,21.4 H431.0 Z" fill="url(#b4)"/>
<path d="M431.0,488.90 H541.52 a10.70,10.70 0 0 1 0,21.4 H431.0 Z" fill="url(#b5)"/>
<path d="M431.0,527.38 H516.44 a10.70,10.70 0 0 1 0,21.4 H431.0 Z" fill="url(#b6)"/>
<path d="M431.0,565.86 H543.61 a10.70,10.70 0 0 1 0,21.4 H431.0 Z" fill="url(#b7)"/>
<path d="M431.0,604.34 H496.58 a10.70,10.70 0 0 1 0,21.4 H431.0 Z" fill="url(#b8)"/>
<path d="M431.0,642.82 H513.30 a10.70,10.70 0 0 1 0,21.4 H431.0 Z" fill="url(#b9)"/>
<path d="M431.0,681.30 H497.63 a10.70,10.70 0 0 1 0,21.4 H431.0 Z" fill="url(#b10)"/>
<path d="M431.0,719.78 H554.06 a10.70,10.70 0 0 1 0,21.4 H431.0 Z" fill="url(#b11)"/>
<path d="M431.0,758.26 H547.27 a10.70,10.70 0 0 1 0,21.4 H431.0 Z" fill="url(#b12)"/>
<path d="M431.0,796.74 H614.15 a10.70,10.70 0 0 1 0,21.4 H431.0 Z" fill="url(#b13)"/>
<path d="M431.0,835.22 H615.71 a10.70,10.70 0 0 1 0,21.4 H431.0 Z" fill="url(#b14)"/>
<path d="M714.5,296.50 H911.20 a10.70,10.70 0 0 1 0,21.4 H714.5 Z" fill="url(#g0)"/>
<path d="M714.5,334.98 H797.01 a10.70,10.70 0 0 1 0,21.4 H714.5 Z" fill="url(#g1)"/>
<path d="M714.5,373.46 H763.34 a10.70,10.70 0 0 1 0,21.4 H714.5 Z" fill="url(#g2)"/>
<path d="M714.5,411.94 H740.89 a10.70,10.70 0 0 1 0,21.4 H714.5 Z" fill="url(#g3)"/>
<path d="M714.5,450.42 H803.84 a10.70,10.70 0 0 1 0,21.4 H714.5 Z" fill="url(#g4)"/>
<path d="M714.5,488.90 H753.33 a10.70,10.70 0 0 1 0,21.4 H714.5 Z" fill="url(#g5)"/>
<path d="M714.5,527.38 H815.31 a10.70,10.70 0 0 1 0,21.4 H714.5 Z" fill="url(#g6)"/>
<path d="M714.5,565.86 H755.04 a10.70,10.70 0 0 1 0,21.4 H714.5 Z" fill="url(#g7)"/>
<path d="M714.5,604.34 H784.08 a10.70,10.70 0 0 1 0,21.4 H714.5 Z" fill="url(#g8)"/>
<path d="M714.5,642.82 H756.99 a10.70,10.70 0 0 1 0,21.4 H714.5 Z" fill="url(#g9)"/>
<path d="M714.5,681.30 H771.39 a10.70,10.70 0 0 1 0,21.4 H714.5 Z" fill="url(#g10)"/>
<path d="M714.5,719.78 H750.89 a10.70,10.70 0 0 1 0,21.4 H714.5 Z" fill="url(#g11)"/>
<path d="M714.5,758.26 H772.85 a10.70,10.70 0 0 1 0,21.4 H714.5 Z" fill="url(#g12)"/>
<path d="M714.5,796.74 H736.98 a10.70,10.70 0 0 1 0,21.4 H714.5 Z" fill="url(#g13)"/>
<path d="M714.5,835.22 H733.08 a10.70,10.70 0 0 1 0,21.4 H714.5 Z" fill="url(#g14)"/>
<path d="M976.0,296.50 H1087.10 a10.70,10.70 0 0 1 0,21.4 H976.0 Z" fill="url(#y0)"/>
<path d="M976.0,334.98 H1043.50 a10.70,10.70 0 0 1 0,21.4 H976.0 Z" fill="url(#y1)"/>
<path d="M976.0,373.46 H1060.71 a10.70,10.70 0 0 1 0,21.4 H976.0 Z" fill="url(#y2)"/>
<path d="M976.0,411.94 H1099.49 a10.70,10.70 0 0 1 0,21.4 H976.0 Z" fill="url(#y3)"/>
<path d="M976.0,450.42 H1123.46 a10.70,10.70 0 0 1 0,21.4 H976.0 Z" fill="url(#y4)"/>
<path d="M976.0,488.90 H1101.90 a10.70,10.70 0 0 1 0,21.4 H976.0 Z" fill="url(#y5)"/>
<path d="M976.0,527.38 H1061.52 a10.70,10.70 0 0 1 0,21.4 H976.0 Z" fill="url(#y6)"/>
<path d="M976.0,565.86 H1063.61 a10.70,10.70 0 0 1 0,21.4 H976.0 Z" fill="url(#y7)"/>
<path d="M976.0,604.34 H1058.30 a10.70,10.70 0 0 1 0,21.4 H976.0 Z" fill="url(#y8)"/>
<path d="M976.0,642.82 H1108.02 a10.70,10.70 0 0 1 0,21.4 H976.0 Z" fill="url(#y9)"/>
<path d="M976.0,681.30 H1158.86 a10.70,10.70 0 0 1 0,21.4 H976.0 Z" fill="url(#y10)"/>
<path d="M976.0,719.78 H1113.17 a10.70,10.70 0 0 1 0,21.4 H976.0 Z" fill="url(#y11)"/>
<path d="M976.0,758.26 H1042.69 a10.70,10.70 0 0 1 0,21.4 H976.0 Z" fill="url(#y12)"/>
<path d="M976.0,796.74 H1121.37 a10.70,10.70 0 0 1 0,21.4 H976.0 Z" fill="url(#y13)"/>
<path d="M976.0,835.22 H1108.02 a10.70,10.70 0 0 1 0,21.4 H976.0 Z" fill="url(#y14)"/>
<path d="M1232.5,296.50 H1415.69 a10.70,10.70 0 0 1 0,21.4 H1232.5 Z" fill="url(#p0)"/>
<path d="M1232.5,334.98 H1372.81 a10.70,10.70 0 0 1 0,21.4 H1232.5 Z" fill="url(#p1)"/>
<path d="M1232.5,373.46 H1299.85 a10.70,10.70 0 0 1 0,21.4 H1232.5 Z" fill="url(#p2)"/>
<path d="M1232.5,411.94 H1253.23 a10.70,10.70 0 0 1 0,21.4 H1232.5 Z" fill="url(#p3)"/>
<path d="M1232.5,450.42 H1281.98 a10.70,10.70 0 0 1 0,21.4 H1232.5 Z" fill="url(#p4)"/>
<path d="M1232.5,488.90 H1280.79 a10.70,10.70 0 0 1 0,21.4 H1232.5 Z" fill="url(#p5)"/>
<path d="M1232.5,527.38 H1292.42 a10.70,10.70 0 0 1 0,21.4 H1232.5 Z" fill="url(#p6)"/>
<path d="M1232.5,565.86 H1294.57 a10.70,10.70 0 0 1 0,21.4 H1232.5 Z" fill="url(#p7)"/>
<path d="M1232.5,604.34 H1328.22 a10.70,10.70 0 0 1 0,21.4 H1232.5 Z" fill="url(#p8)"/>
<path d="M1232.5,642.82 H1266.83 a10.70,10.70 0 0 1 0,21.4 H1232.5 Z" fill="url(#p9)"/>
<path d="M1232.5,681.30 H1267.28 a10.70,10.70 0 0 1 0,21.4 H1232.5 Z" fill="url(#p10)"/>
<path d="M1232.5,719.78 H1259.79 a10.70,10.70 0 0 1 0,21.4 H1232.5 Z" fill="url(#p11)"/>
<path d="M1232.5,758.26 H1329.28 a10.70,10.70 0 0 1 0,21.4 H1232.5 Z" fill="url(#p12)"/>
<path d="M1232.5,796.74 H1247.51 a10.70,10.70 0 0 1 0,21.4 H1232.5 Z" fill="url(#p13)"/>
<path d="M1232.5,835.22 H1248.85 a10.70,10.70 0 0 1 0,21.4 H1232.5 Z" fill="url(#p14)"/>
<g class="ic">
<use href="#i-gavel" x="403.50" y="307.00"/>
<use href="#i-car" x="403.50" y="345.50"/>
<use href="#i-comb" x="403.50" y="384.00"/>
<use href="#i-news" x="403.50" y="422.50"/>
<use href="#i-tooth" x="403.50" y="461.00"/>
<use href="#i-cap" x="403.50" y="499.50"/>
<use href="#i-pig" x="403.50" y="538.00"/>
<use href="#i-chair" x="403.50" y="576.50"/>
<use href="#i-heart" x="403.50" y="615.00"/>
<use href="#i-house" x="403.50" y="653.50"/>
<use href="#i-factory" x="403.50" y="692.00"/>
<use href="#i-hand" x="403.50" y="730.50"/>
<use href="#i-cross" x="403.50" y="769.00"/>
<use href="#i-shop" x="403.50" y="807.50"/>
<use href="#i-ball" x="403.50" y="846.00"/>
<use href="#i-gavel" x="684.55" y="307.00"/>
<use href="#i-car" x="684.55" y="345.50"/>
<use href="#i-comb" x="684.55" y="384.00"/>
<use href="#i-news" x="684.55" y="422.50"/>
<use href="#i-tooth" x="684.55" y="461.00"/>
<use href="#i-cap" x="684.55" y="499.50"/>
<use href="#i-pig" x="684.55" y="538.00"/>
<use href="#i-chair" x="684.55" y="576.50"/>
<use href="#i-heart" x="684.55" y="615.00"/>
<use href="#i-house" x="684.55" y="653.50"/>
<use href="#i-factory" x="684.55" y="692.00"/>
<use href="#i-hand" x="684.55" y="730.50"/>
<use href="#i-cross" x="684.55" y="769.00"/>
<use href="#i-shop" x="684.55" y="807.50"/>
<use href="#i-ball" x="684.55" y="846.00"/>
<use href="#i-gavel" x="947.40" y="307.00"/>
<use href="#i-car" x="947.40" y="345.50"/>
<use href="#i-comb" x="947.40" y="384.00"/>
<use href="#i-news" x="947.40" y="422.50"/>
<use href="#i-tooth" x="947.40" y="461.00"/>
<use href="#i-cap" x="947.40" y="499.50"/>
<use href="#i-pig" x="947.40" y="538.00"/>
<use href="#i-chair" x="947.40" y="576.50"/>
<use href="#i-heart" x="947.40" y="615.00"/>
<use href="#i-house" x="947.40" y="653.50"/>
<use href="#i-factory" x="947.40" y="692.00"/>
<use href="#i-hand" x="947.40" y="730.50"/>
<use href="#i-cross" x="947.40" y="769.00"/>
<use href="#i-shop" x="947.40" y="807.50"/>
<use href="#i-ball" x="947.40" y="846.00"/>
<use href="#i-gavel" x="1202.80" y="307.00"/>
<use href="#i-car" x="1202.80" y="345.50"/>
<use href="#i-comb" x="1202.80" y="384.00"/>
<use href="#i-news" x="1202.80" y="422.50"/>
<use href="#i-tooth" x="1202.80" y="461.00"/>
<use href="#i-cap" x="1202.80" y="499.50"/>
<use href="#i-pig" x="1202.80" y="538.00"/>
<use href="#i-chair" x="1202.80" y="576.50"/>
<use href="#i-heart" x="1202.80" y="615.00"/>
<use href="#i-house" x="1202.80" y="653.50"/>
<use href="#i-factory" x="1202.80" y="692.00"/>
<use href="#i-hand" x="1202.80" y="730.50"/>
<use href="#i-cross" x="1202.80" y="769.00"/>
<use href="#i-shop" x="1202.80" y="807.50"/>
<use href="#i-ball" x="1202.80" y="846.00"/>
</g>
<text x="101.63" y="87.05" font-size="35.6" font-weight="bold" fill="#231f20" textLength="180.88" lengthAdjust="spacingAndGlyphs" stroke="#231f20" stroke-width="1.7" stroke-linejoin="round">Facebook</text>
<text x="295.56" y="87.05" font-size="35.6" font-weight="bold" fill="#231f20" textLength="71.22" lengthAdjust="spacingAndGlyphs" stroke="#231f20" stroke-width="1.7" stroke-linejoin="round">Ads</text>
<text x="377.33" y="87.05" font-size="35.6" font-weight="bold" fill="#231f20" textLength="232.39" lengthAdjust="spacingAndGlyphs" stroke="#231f20" stroke-width="1.7" stroke-linejoin="round">Benchmarks</text>
<text x="621.41" y="87.05" font-size="35.6" font-weight="bold" fill="#231f20" textLength="88.49" lengthAdjust="spacingAndGlyphs" stroke="#231f20" stroke-width="1.7" stroke-linejoin="round">2024</text>
<text x="101.33" y="137.90" font-size="37.3" font-weight="bold" fill="#231f20" textLength="109.81" lengthAdjust="spacingAndGlyphs" >Leads</text>
<text x="220.64" y="137.90" font-size="37.3" font-weight="bold" fill="#231f20" textLength="181.67" lengthAdjust="spacingAndGlyphs" >Objective</text>
<text x="474.73" y="236.30" font-size="16.6" fill="#111" textLength="137.62" lengthAdjust="spacingAndGlyphs" stroke="#111" stroke-width="0.35">CLICK-THROUGH</text>
<text x="615.60" y="236.30" font-size="16.6" fill="#111" textLength="42.99" lengthAdjust="spacingAndGlyphs" stroke="#111" stroke-width="0.35">RATE</text>
<text x="757.55" y="236.30" font-size="16.6" fill="#111" textLength="44.42" lengthAdjust="spacingAndGlyphs" stroke="#111" stroke-width="0.35">COST</text>
<text x="806.53" y="236.30" font-size="16.6" fill="#111" textLength="30.68" lengthAdjust="spacingAndGlyphs" stroke="#111" stroke-width="0.35">PER</text>
<text x="841.23" y="236.30" font-size="16.6" fill="#111" textLength="48.14" lengthAdjust="spacingAndGlyphs" stroke="#111" stroke-width="0.35">CLICK</text>
<text x="1021.84" y="236.30" font-size="16.6" fill="#111" textLength="109.59" lengthAdjust="spacingAndGlyphs" stroke="#111" stroke-width="0.35">CONVERSION</text>
<text x="1135.42" y="236.30" font-size="16.6" fill="#111" textLength="42.57" lengthAdjust="spacingAndGlyphs" stroke="#111" stroke-width="0.35">RATE</text>
<text x="1277.95" y="236.30" font-size="16.6" fill="#111" textLength="44.42" lengthAdjust="spacingAndGlyphs" stroke="#111" stroke-width="0.35">COST</text>
<text x="1327.55" y="236.30" font-size="16.6" fill="#111" textLength="30.37" lengthAdjust="spacingAndGlyphs" stroke="#111" stroke-width="0.35">PER</text>
<text x="1362.82" y="236.30" font-size="16.6" fill="#111" textLength="42.75" lengthAdjust="spacingAndGlyphs" stroke="#111" stroke-width="0.35">LEAD</text>
<text x="180.10" y="312.00" font-size="15.5" fill="#111" textLength="199.22" lengthAdjust="spacingAndGlyphs" stroke="#111" stroke-width="0.4">Attorneys &amp; Legal Services</text>
<text x="107.10" y="350.48" font-size="15.5" fill="#111" textLength="272.57" lengthAdjust="spacingAndGlyphs" stroke="#111" stroke-width="0.4">Automotive (Repair, Service &amp; Parts)</text>
<text x="204.43" y="388.96" font-size="15.5" fill="#111" textLength="175.04" lengthAdjust="spacingAndGlyphs" stroke="#111" stroke-width="0.4">Beauty &amp; Personal Care</text>
<text x="245.52" y="427.44" font-size="15.5" fill="#111" textLength="133.79" lengthAdjust="spacingAndGlyphs" stroke="#111" stroke-width="0.4">Business Services</text>
<text x="181.70" y="465.92" font-size="15.5" fill="#111" textLength="197.63" lengthAdjust="spacingAndGlyphs" stroke="#111" stroke-width="0.4">Dentists &amp; Dental Services</text>
<text x="203.06" y="504.40" font-size="15.5" fill="#111" textLength="176.71" lengthAdjust="spacingAndGlyphs" stroke="#111" stroke-width="0.4">Education &amp; Instruction</text>
<text x="229.72" y="542.88" font-size="15.5" fill="#111" textLength="149.74" lengthAdjust="spacingAndGlyphs" stroke="#111" stroke-width="0.4">Finance &amp; Insurance</text>
<text x="309.23" y="581.36" font-size="15.5" fill="#111" textLength="70.28" lengthAdjust="spacingAndGlyphs" stroke="#111" stroke-width="0.4">Furniture</text>
<text x="257.20" y="619.84" font-size="15.5" fill="#111" textLength="122.12" lengthAdjust="spacingAndGlyphs" stroke="#111" stroke-width="0.4">Health &amp; Fitness</text>
<text x="164.48" y="658.32" font-size="15.5" fill="#111" textLength="214.26" lengthAdjust="spacingAndGlyphs" stroke="#111" stroke-width="0.4">Home &amp; Home Improvement</text>
<text x="200.38" y="696.80" font-size="15.5" fill="#111" textLength="179.54" lengthAdjust="spacingAndGlyphs" stroke="#111" stroke-width="0.4">Industrial &amp; Commercial</text>
<text x="247.32" y="735.28" font-size="15.5" fill="#111" textLength="131.99" lengthAdjust="spacingAndGlyphs" stroke="#111" stroke-width="0.4">Personal Services</text>
<text x="211.42" y="773.76" font-size="15.5" fill="#111" textLength="167.89" lengthAdjust="spacingAndGlyphs" stroke="#111" stroke-width="0.4">Physicians &amp; Surgeons</text>
<text x="295.73" y="812.24" font-size="15.5" fill="#111" textLength="83.72" lengthAdjust="spacingAndGlyphs" stroke="#111" stroke-width="0.4">Real Estate</text>
<text x="230.28" y="850.72" font-size="15.5" fill="#111" textLength="149.46" lengthAdjust="spacingAndGlyphs" stroke="#111" stroke-width="0.4">Sports &amp; Recreation</text>
<text x="461.27" y="312.10" font-size="13.9" font-weight="bold" fill="#fff" textLength="42.14" lengthAdjust="spacingAndGlyphs" >1.61%</text>
<text x="438.57" y="350.54" font-size="13.9" font-weight="bold" fill="#fff" textLength="42.14" lengthAdjust="spacingAndGlyphs" >1.08%</text>
<text x="492.12" y="388.98" font-size="13.9" font-weight="bold" fill="#fff" textLength="43.39" lengthAdjust="spacingAndGlyphs" >2.26%</text>
<text x="516.53" y="427.42" font-size="13.9" font-weight="bold" fill="#fff" textLength="42.89" lengthAdjust="spacingAndGlyphs" >2.70%</text>
<text x="456.17" y="465.86" font-size="13.9" font-weight="bold" fill="#fff" textLength="42.34" lengthAdjust="spacingAndGlyphs" >1.54%</text>
<text x="495.63" y="504.30" font-size="13.9" font-weight="bold" fill="#fff" textLength="42.89" lengthAdjust="spacingAndGlyphs" >2.32%</text>
<text x="472.47" y="542.74" font-size="13.9" font-weight="bold" fill="#fff" textLength="42.14" lengthAdjust="spacingAndGlyphs" >1.84%</text>
<text x="499.23" y="581.18" font-size="13.9" font-weight="bold" fill="#fff" textLength="42.79" lengthAdjust="spacingAndGlyphs" >2.36%</text>
<text x="451.58" y="619.62" font-size="13.9" font-weight="bold" fill="#fff" textLength="41.93" lengthAdjust="spacingAndGlyphs" >1.46%</text>
<text x="468.97" y="658.06" font-size="13.9" font-weight="bold" fill="#fff" textLength="42.14" lengthAdjust="spacingAndGlyphs" >1.78%</text>
<text x="451.57" y="696.50" font-size="13.9" font-weight="bold" fill="#fff" textLength="42.34" lengthAdjust="spacingAndGlyphs" >1.48%</text>
<text x="508.43" y="734.94" font-size="13.9" font-weight="bold" fill="#fff" textLength="42.89" lengthAdjust="spacingAndGlyphs" >2.56%</text>
<text x="503.32" y="773.38" font-size="13.9" font-weight="bold" fill="#fff" textLength="43.29" lengthAdjust="spacingAndGlyphs" >2.43%</text>
<text x="574.16" y="811.82" font-size="13.9" font-weight="bold" fill="#fff" textLength="42.95" lengthAdjust="spacingAndGlyphs" >3.71%</text>
<text x="577.66" y="850.26" font-size="13.9" font-weight="bold" fill="#fff" textLength="42.65" lengthAdjust="spacingAndGlyphs" >3.74%</text>
<text x="868.40" y="312.35" font-size="13.9" font-weight="bold" fill="#fff" textLength="40.25" lengthAdjust="spacingAndGlyphs" >$8.50</text>
<text x="757.00" y="350.83" font-size="13.9" font-weight="bold" fill="#fff" textLength="39.80" lengthAdjust="spacingAndGlyphs" >$3.82</text>
<text x="726.60" y="389.31" font-size="13.9" font-weight="bold" fill="#fff" textLength="39.30" lengthAdjust="spacingAndGlyphs" >$2.44</text>
<text x="757.40" y="427.79" font-size="13.9" font-weight="bold" fill="#6abf4b" textLength="39.39" lengthAdjust="spacingAndGlyphs" >$1.52</text>
<text x="762.10" y="466.27" font-size="13.9" font-weight="bold" fill="#fff" textLength="40.66" lengthAdjust="spacingAndGlyphs" >$4.10</text>
<text x="771.20" y="504.75" font-size="13.9" font-weight="bold" fill="#6abf4b" textLength="40.00" lengthAdjust="spacingAndGlyphs" >$2.03</text>
<text x="774.70" y="543.23" font-size="13.9" font-weight="bold" fill="#fff" textLength="39.54" lengthAdjust="spacingAndGlyphs" >$4.57</text>
<text x="772.80" y="581.71" font-size="13.9" font-weight="bold" fill="#6abf4b" textLength="40.05" lengthAdjust="spacingAndGlyphs" >$2.10</text>
<text x="741.60" y="620.19" font-size="13.9" font-weight="bold" fill="#fff" textLength="40.20" lengthAdjust="spacingAndGlyphs" >$3.29</text>
<text x="719.90" y="658.67" font-size="13.9" font-weight="bold" fill="#fff" textLength="40.00" lengthAdjust="spacingAndGlyphs" >$2.18</text>
<text x="735.10" y="697.15" font-size="13.9" font-weight="bold" fill="#fff" textLength="39.85" lengthAdjust="spacingAndGlyphs" >$2.77</text>
<text x="769.00" y="735.63" font-size="13.9" font-weight="bold" fill="#6abf4b" textLength="39.59" lengthAdjust="spacingAndGlyphs" >$1.93</text>
<text x="732.50" y="774.11" font-size="13.9" font-weight="bold" fill="#fff" textLength="39.49" lengthAdjust="spacingAndGlyphs" >$2.83</text>
<text x="754.40" y="812.59" font-size="13.9" font-weight="bold" fill="#6abf4b" textLength="40.00" lengthAdjust="spacingAndGlyphs" >$1.36</text>
<text x="749.70" y="851.07" font-size="13.9" font-weight="bold" fill="#6abf4b" textLength="40.05" lengthAdjust="spacingAndGlyphs" >$1.20</text>
<text x="1046.84" y="313.10" font-size="13.9" font-weight="bold" fill="#fffbe6" textLength="41.36" lengthAdjust="spacingAndGlyphs" >7.57%</text>
<text x="1003.20" y="351.47" font-size="13.9" font-weight="bold" fill="#fffbe6" textLength="41.21" lengthAdjust="spacingAndGlyphs" >4.86%</text>
<text x="1020.28" y="389.84" font-size="13.9" font-weight="bold" fill="#fffbe6" textLength="40.63" lengthAdjust="spacingAndGlyphs" >5.93%</text>
<text x="1058.55" y="428.21" font-size="13.9" font-weight="bold" fill="#fffbe6" textLength="41.26" lengthAdjust="spacingAndGlyphs" >8.34%</text>
<text x="1083.55" y="466.58" font-size="13.9" font-weight="bold" fill="#fffbe6" textLength="41.06" lengthAdjust="spacingAndGlyphs" >9.83%</text>
<text x="1061.24" y="504.95" font-size="13.9" font-weight="bold" fill="#fffbe6" textLength="41.67" lengthAdjust="spacingAndGlyphs" >8.49%</text>
<text x="1018.57" y="543.32" font-size="13.9" font-weight="bold" fill="#fffbe6" textLength="41.03" lengthAdjust="spacingAndGlyphs" >5.98%</text>
<text x="1019.64" y="581.69" font-size="13.9" font-weight="bold" fill="#fffbe6" textLength="41.27" lengthAdjust="spacingAndGlyphs" >6.11%</text>
<text x="1017.17" y="620.06" font-size="13.9" font-weight="bold" fill="#fffbe6" textLength="41.03" lengthAdjust="spacingAndGlyphs" >5.78%</text>
<text x="1068.15" y="658.43" font-size="13.9" font-weight="bold" fill="#fffbe6" textLength="41.26" lengthAdjust="spacingAndGlyphs" >8.87%</text>
<text x="1111.90" y="696.80" font-size="13.9" font-weight="bold" fill="#fffbe6" textLength="48.80" lengthAdjust="spacingAndGlyphs" >12.03%</text>
<text x="1073.84" y="735.17" font-size="13.9" font-weight="bold" fill="#fffbe6" textLength="41.67" lengthAdjust="spacingAndGlyphs" >9.19%</text>
<text x="1003.20" y="773.54" font-size="13.9" font-weight="bold" fill="#fffbe6" textLength="40.80" lengthAdjust="spacingAndGlyphs" >4.81%</text>
<text x="1081.54" y="811.91" font-size="13.9" font-weight="bold" fill="#fffbe6" textLength="41.67" lengthAdjust="spacingAndGlyphs" >9.70%</text>
<text x="1068.15" y="850.28" font-size="13.9" font-weight="bold" fill="#fffbe6" textLength="41.26" lengthAdjust="spacingAndGlyphs" >8.87%</text>
<text x="1358.30" y="313.00" font-size="13.9" font-weight="bold" fill="#fff" textLength="57.60" lengthAdjust="spacingAndGlyphs" >$104.58</text>
<text x="1320.10" y="351.37" font-size="13.9" font-weight="bold" fill="#fff" textLength="48.49" lengthAdjust="spacingAndGlyphs" >$81.45</text>
<text x="1249.10" y="389.75" font-size="13.9" font-weight="bold" fill="#fff" textLength="49.35" lengthAdjust="spacingAndGlyphs" >$42.10</text>
<text x="1272.80" y="428.12" font-size="13.9" font-weight="bold" fill="#a648e6" textLength="47.89" lengthAdjust="spacingAndGlyphs" >$16.95</text>
<text x="1299.40" y="466.49" font-size="13.9" font-weight="bold" fill="#a648e6" textLength="48.49" lengthAdjust="spacingAndGlyphs" >$32.46</text>
<text x="1299.40" y="504.86" font-size="13.9" font-weight="bold" fill="#a648e6" textLength="48.49" lengthAdjust="spacingAndGlyphs" >$31.82</text>
<text x="1242.40" y="543.24" font-size="13.9" font-weight="bold" fill="#fff" textLength="48.70" lengthAdjust="spacingAndGlyphs" >$38.09</text>
<text x="1245.40" y="581.61" font-size="13.9" font-weight="bold" fill="#fff" textLength="49.10" lengthAdjust="spacingAndGlyphs" >$39.25</text>
<text x="1279.10" y="619.98" font-size="13.9" font-weight="bold" fill="#fff" textLength="49.15" lengthAdjust="spacingAndGlyphs" >$57.40</text>
<text x="1286.20" y="658.36" font-size="13.9" font-weight="bold" fill="#a648e6" textLength="47.89" lengthAdjust="spacingAndGlyphs" >$24.29</text>
<text x="1286.20" y="696.73" font-size="13.9" font-weight="bold" fill="#a648e6" textLength="47.89" lengthAdjust="spacingAndGlyphs" >$24.53</text>
<text x="1278.50" y="735.10" font-size="13.9" font-weight="bold" fill="#a648e6" textLength="48.09" lengthAdjust="spacingAndGlyphs" >$20.49</text>
<text x="1280.50" y="773.48" font-size="13.9" font-weight="bold" fill="#fff" textLength="48.34" lengthAdjust="spacingAndGlyphs" >$57.97</text>
<text x="1265.30" y="811.85" font-size="13.9" font-weight="bold" fill="#a648e6" textLength="48.34" lengthAdjust="spacingAndGlyphs" >$13.87</text>
<text x="1268.40" y="850.22" font-size="13.9" font-weight="bold" fill="#a648e6" textLength="48.49" lengthAdjust="spacingAndGlyphs" >$14.59</text>
<text x="129.90" y="906.70" font-size="22.4" fill="#111" textLength="133.64" lengthAdjust="spacingAndGlyphs" stroke="#111" stroke-width="0.5">WordStream</text>
<text x="221.20" y="916.90" font-size="8.1" font-weight="bold" fill="#111" textLength="40.92" lengthAdjust="spacingAndGlyphs" >by LocaliQ</text>
<g stroke="#111" stroke-width="5.7" stroke-linecap="butt"><line x1="105.9" y1="884.9" x2="105.9" y2="916.9"/><line x1="89.10000000000001" y1="900.9" x2="121.9" y2="900.9"/><line x1="94.30000000000001" y1="889.3" x2="117.30000000000001" y2="912.3"/><line x1="94.30000000000001" y1="912.5" x2="117.30000000000001" y2="889.5"/></g>
<polyline points="101.30000000000001,891.6999999999999 110.2,900.9 101.5,909.5" fill="none" stroke="#fff" stroke-width="1.2"/>
</svg></body></html>
